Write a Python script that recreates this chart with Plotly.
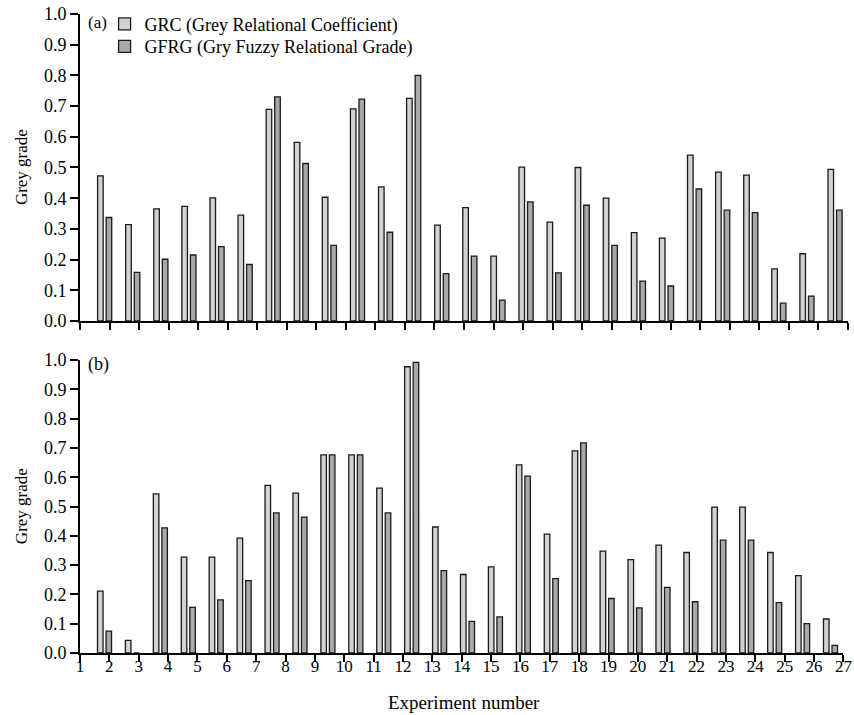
import plotly.graph_objects as go

experiments = list(range(1, 28))
tick_labels = [str(i) for i in range(1, 28)]

# Panel (a)
grc_a = [0.473, 0.314, 0.365, 0.373, 0.401, 0.345, 0.689, 0.582, 0.403, 0.691,
         0.437, 0.725, 0.312, 0.369, 0.211, 0.501, 0.322, 0.500, 0.400, 0.288,
         0.270, 0.540, 0.485, 0.475, 0.170, 0.219, 0.494]
gfrg_a = [0.337, 0.158, 0.201, 0.215, 0.242, 0.184, 0.730, 0.513, 0.246, 0.723,
          0.289, 0.800, 0.154, 0.211, 0.068, 0.388, 0.157, 0.377, 0.246, 0.130,
          0.114, 0.430, 0.361, 0.353, 0.058, 0.081, 0.361]

# Panel (b)
grc_b = [0.211, 0.043, 0.543, 0.327, 0.327, 0.392, 0.572, 0.546, 0.676, 0.676,
         0.563, 0.977, 0.430, 0.268, 0.294, 0.642, 0.406, 0.690, 0.348, 0.319,
         0.368, 0.343, 0.498, 0.498, 0.343, 0.264, 0.116]
gfrg_b = [0.075, 0.0, 0.427, 0.156, 0.181, 0.247, 0.478, 0.464, 0.676, 0.676,
          0.478, 0.992, 0.281, 0.108, 0.123, 0.604, 0.254, 0.717, 0.186, 0.154,
          0.224, 0.175, 0.385, 0.385, 0.172, 0.100, 0.026]

GRC_COLOR = "#d2d2d2"
GFRG_COLOR = "#a9a9a9"
EDGE = "#1a1a1a"
FONT = "Liberation Serif"

fig = go.Figure()

def add_pair(grc, gfrg, xa, ya, show):
    fig.add_trace(go.Bar(x=experiments, y=grc, name="GRC (Grey Relational Coefficient)",
                         marker=dict(color=GRC_COLOR, line=dict(color=EDGE, width=1.3)),
                         xaxis=xa, yaxis=ya, showlegend=show, legendgroup="grc", legend="legend"))
    fig.add_trace(go.Bar(x=experiments, y=gfrg, name="GFRG (Gry Fuzzy Relational Grade)",
                         marker=dict(color=GFRG_COLOR, line=dict(color=EDGE, width=1.3)),
                         xaxis=xa, yaxis=ya, showlegend=show, legendgroup="gfrg", legend="legend2"))

add_pair(grc_a, gfrg_a, "x", "y", True)
add_pair(grc_b, gfrg_b, "x2", "y2", False)

# empty helper traces so the visible experiment-number axes are drawn
fig.add_trace(go.Scatter(x=[], y=[], xaxis="x3", yaxis="y", showlegend=False, hoverinfo="skip"))
fig.add_trace(go.Scatter(x=[], y=[], xaxis="x4", yaxis="y2", showlegend=False, hoverinfo="skip"))

hidden_range = [0.122, 27.461]
dom_a = [0.5196, 1.0]
dom_b = [0.0, 0.4585]

yax = dict(range=[0, 1.0], dtick=0.1, tickformat=".1f", showgrid=False, zeroline=False,
           showline=True, linecolor="black", linewidth=2, ticks="outside", ticklen=8,
           tickwidth=2, tickcolor="black", tickfont=dict(family=FONT, size=18, color="black"),
           automargin=False, ticklabeloverflow="allow")

visx = dict(range=[1, 27], tickmode="array", tickvals=experiments, ticktext=tick_labels,
            showgrid=False, zeroline=False, showline=True, linecolor="black", linewidth=2,
            ticks="outside", ticklen=7, tickwidth=2, tickcolor="black", automargin=False,
            ticklabeloverflow="allow", tickfont=dict(family=FONT, size=17, color="black"))

leg = dict(xanchor="left", yanchor="middle", bgcolor="rgba(0,0,0,0)",
           font=dict(family=FONT, size=18, color="black"), itemwidth=30)

fig.update_layout(
    width=854, height=715,
    margin=dict(l=80, r=6, t=14, b=62, autoexpand=False),
    plot_bgcolor="white", paper_bgcolor="white",
    barmode="group", bargap=0.39, bargroupgap=0.35,
    font=dict(family=FONT, color="black"),
    xaxis=dict(domain=[0, 1], range=hidden_range, visible=False, anchor="y", automargin=False),
    xaxis2=dict(domain=[0, 0.994], range=hidden_range, visible=False, anchor="y2", automargin=False),
    xaxis3=dict(visx, overlaying="x", anchor="y", showticklabels=False),
    xaxis4=dict(visx, overlaying="x2", anchor="y2", ticklabelstandoff=-10),
    yaxis=dict(yax, domain=dom_a, anchor="x"),
    yaxis2=dict(yax, domain=dom_b, anchor="x2"),
    legend=dict(leg, x=0.032, y=0.984),
    legend2=dict(leg, x=0.032, y=0.949),
    annotations=[
        dict(text="(a)", x=0.008, y=1.004, xref="paper", yref="paper", xanchor="left",
             yanchor="top", showarrow=False, font=dict(family=FONT, size=17, color="black")),
        dict(text="(b)", x=0.008, y=dom_b[1] + 0.012, xref="paper", yref="paper", xanchor="left",
             yanchor="top", showarrow=False, font=dict(family=FONT, size=18, color="black")),
        dict(text="Experiment number", x=0.5, y=-0.078, xref="paper", yref="paper",
             xanchor="center", yanchor="middle", showarrow=False,
             font=dict(family=FONT, size=19, color="black")),
        dict(text="Grey grade", x=-0.076, y=(dom_a[0] + dom_a[1]) / 2, xref="paper", yref="paper",
             xanchor="center", yanchor="middle", textangle=-90, showarrow=False,
             font=dict(family=FONT, size=17, color="black")),
        dict(text="Grey grade", x=-0.076, y=(dom_b[0] + dom_b[1]) / 2, xref="paper", yref="paper",
             xanchor="center", yanchor="middle", textangle=-90, showarrow=False,
             font=dict(family=FONT, size=17, color="black")),
    ],
)

fig.write_html("out.html", config={"displayModeBar": False},
               post_script="document.body.style.margin='0';")
